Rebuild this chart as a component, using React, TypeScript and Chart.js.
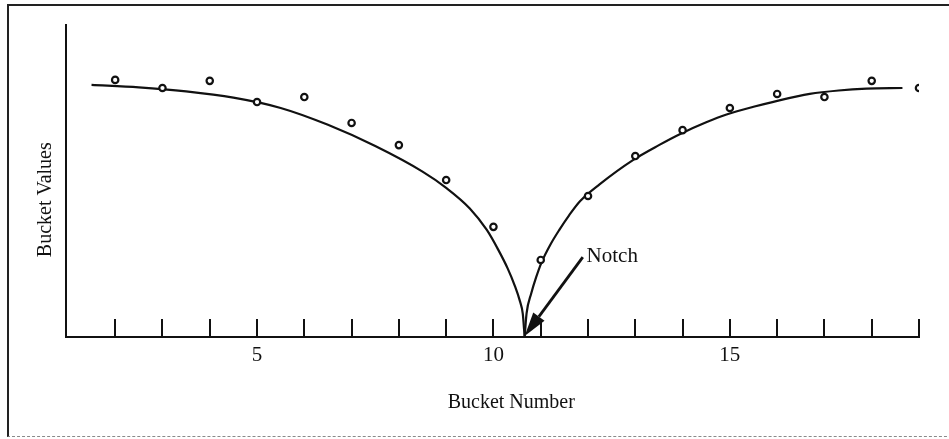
import React, { useEffect, useRef } from 'react';
import { Chart, registerables } from 'chart.js';

Chart.register(...registerables);

// Measured sample buckets (circles)
const bucketNumbers = [2, 3, 4, 5, 6, 7, 8, 9, 10, 11, 12, 13, 14, 15, 16, 17, 18, 19];
const bucketValues = [82.4, 79.8, 82.1, 75.3, 76.9, 68.6, 61.5, 50.3, 35.3, 24.7, 45.2, 58.0, 66.3, 73.4, 77.9, 76.9, 82.1, 79.8];

// Fitted curve, left branch (down to the notch)
const leftCurveX = [1.5, 2.5, 3.5, 4.5, 5.5, 6.5, 7.5, 8.5, 9.0, 9.5, 9.86, 10.1, 10.3, 10.45, 10.56, 10.62, 10.66];
const leftCurveY = [80.8, 80.0, 78.7, 76.7, 73.4, 68.0, 61.2, 53.0, 47.8, 41.2, 34.3, 28.0, 22.0, 16.5, 11.5, 7.5, 0];

// Fitted curve, right branch (up from the notch)
const rightCurveX = [10.66, 10.7, 10.8, 10.9, 11.02, 11.2, 11.4, 11.6, 11.83, 12.25, 12.95, 13.5, 13.94, 14.5, 14.93, 15.5, 15.9, 16.69, 17.3, 17.89, 18.65];
const rightCurveY = [0, 7.5, 14.0, 19.0, 24.0, 29.5, 34.5, 39.0, 43.5, 49.0, 56.7, 61.5, 65.0, 68.8, 71.3, 73.8, 75.3, 77.9, 79.0, 79.6, 79.8];

// Axis ticks
const tickMarks = [2, 3, 4, 5, 6, 7, 8, 9, 10, 11, 12, 13, 14, 15, 16, 17, 18, 19];
const tickLabels = [5, 10, 15];

// Notch annotation
const notchX = 10.66;
const notchY = 0;
const notchLabel = 'Notch';
const arrowFrom = { x: 11.89, y: 25.6 };
const labelAt = { x: 11.97, y: 24.0 };

const xTitle = 'Bucket Number';
const yTitle = 'Bucket Values';

const INK = '#111111';
const FONT = '"Liberation Serif", "Times New Roman", serif';

const decorPlugin = {
  id: 'decor',
  afterDatasetsDraw(chart: any) {
    const { ctx, chartArea, scales } = chart;
    const xs = scales.x;
    const ys = scales.y;
    ctx.save();
    // inward tick marks
    ctx.strokeStyle = INK;
    ctx.lineWidth = 2;
    const y0 = ys.getPixelForValue(0);
    tickMarks.forEach((v) => {
      const px = Math.round(xs.getPixelForValue(v));
      ctx.beginPath();
      ctx.moveTo(px, y0);
      ctx.lineTo(px, y0 - 18);
      ctx.stroke();
    });

    // arrow
    const ax = xs.getPixelForValue(arrowFrom.x);
    const ay = ys.getPixelForValue(arrowFrom.y);
    const tx = xs.getPixelForValue(notchX);
    const ty = ys.getPixelForValue(notchY) - 1;
    const ang = Math.atan2(ty - ay, tx - ax);
    const headLen = 24;
    const headHalf = 7;
    const bx = tx - headLen * Math.cos(ang);
    const by = ty - headLen * Math.sin(ang);
    ctx.lineWidth = 2.8;
    ctx.beginPath();
    ctx.moveTo(ax, ay);
    ctx.lineTo(bx, by);
    ctx.stroke();
    ctx.fillStyle = INK;
    ctx.beginPath();
    ctx.moveTo(tx, ty);
    ctx.lineTo(bx + headHalf * Math.sin(ang), by - headHalf * Math.cos(ang));
    ctx.lineTo(bx - headHalf * Math.sin(ang), by + headHalf * Math.cos(ang));
    ctx.closePath();
    ctx.fill();

    // notch label
    ctx.font = `21px ${FONT}`;
    ctx.textAlign = 'left';
    ctx.textBaseline = 'alphabetic';
    ctx.fillText(notchLabel, xs.getPixelForValue(labelAt.x), ys.getPixelForValue(labelAt.y));

    // axis titles
    ctx.font = `20px ${FONT}`;
    ctx.textAlign = 'center';
    ctx.textBaseline = 'alphabetic';
    const w = chartArea.right - chartArea.left;
    const h = chartArea.bottom - chartArea.top;
    ctx.fillText(xTitle, chartArea.left + 0.522 * w, chartArea.bottom + 71);

    ctx.translate(chartArea.left - 15, chartArea.top + 0.56 * h);
    ctx.rotate(-Math.PI / 2);
    ctx.fillText(yTitle, 0, 0);
    ctx.restore();
  },
};

export default function App() {
  const canvasRef = useRef<HTMLCanvasElement | null>(null);

  useEffect(() => {
    const canvas = canvasRef.current;
    if (!canvas) return;
    const chart = new Chart(canvas, {
      type: 'line',
      data: {
        datasets: [
          {
            type: 'scatter',
            label: 'Buckets',
            data: bucketNumbers.map((x, i) => ({ x, y: bucketValues[i] })),
            showLine: false,
            pointRadius: 3.2,
            pointBorderWidth: 2.2,
            pointBackgroundColor: '#ffffff',
            pointBorderColor: INK,
            order: 0,
          } as any,
          {
            label: 'Left',
            data: leftCurveX.map((x, i) => ({ x, y: leftCurveY[i] })),
            borderColor: INK,
            borderWidth: 2.2,
            pointRadius: 0,
            cubicInterpolationMode: 'monotone',
            fill: false,
            order: 1,
          },
          {
            label: 'Right',
            data: rightCurveX.map((x, i) => ({ x, y: rightCurveY[i] })),
            borderColor: INK,
            borderWidth: 2.2,
            pointRadius: 0,
            cubicInterpolationMode: 'monotone',
            fill: false,
            order: 1,
          },
        ],
      },
      options: {
        responsive: false,
        animation: false,
        devicePixelRatio: 1,
        layout: { padding: { top: 25, right: 30, left: 0, bottom: 0 } },
        plugins: { legend: { display: false }, tooltip: { enabled: false } },
        scales: {
          x: {
            type: 'linear',
            min: 0.96,
            max: 19,
            grid: { display: false, drawTicks: false },
            border: { display: true, color: INK, width: 2 },
            ticks: {
              color: INK,
              font: { family: FONT, size: 21 },
              padding: 6,
              maxRotation: 0,
            },
            afterBuildTicks: (scale: any) => {
              scale.ticks = tickLabels.map((v) => ({ value: v }));
            },
            afterFit: (scale: any) => {
              scale.height = 102;
            },
          },
          y: {
            type: 'linear',
            min: 0,
            max: 100,
            grid: { display: false, drawTicks: false },
            border: { display: true, color: INK, width: 2 },
            ticks: { display: false },
            afterFit: (scale: any) => {
              scale.width = 66;
            },
          },
        },
      },
      plugins: [decorPlugin],
    });
    return () => chart.destroy();
  }, []);

  return (
    <div
      style={{
        position: 'fixed',
        left: 0,
        top: 0,
        width: 949,
        height: 439,
        background: '#ffffff',
        overflow: 'hidden',
      }}
    >
      <div
        style={{
          position: 'absolute',
          left: 7,
          top: 4,
          width: 960,
          height: 433,
          borderTop: '2px solid #222',
          borderLeft: '2px solid #222',
          borderBottom: '1px dashed #8a8a8a',
          boxSizing: 'border-box',
        }}
      />
      <canvas
        ref={canvasRef}
        width={949}
        height={439}
        style={{ position: 'absolute', left: 0, top: 0, width: 949, height: 439, display: 'block' }}
      />
    </div>
  );
}
